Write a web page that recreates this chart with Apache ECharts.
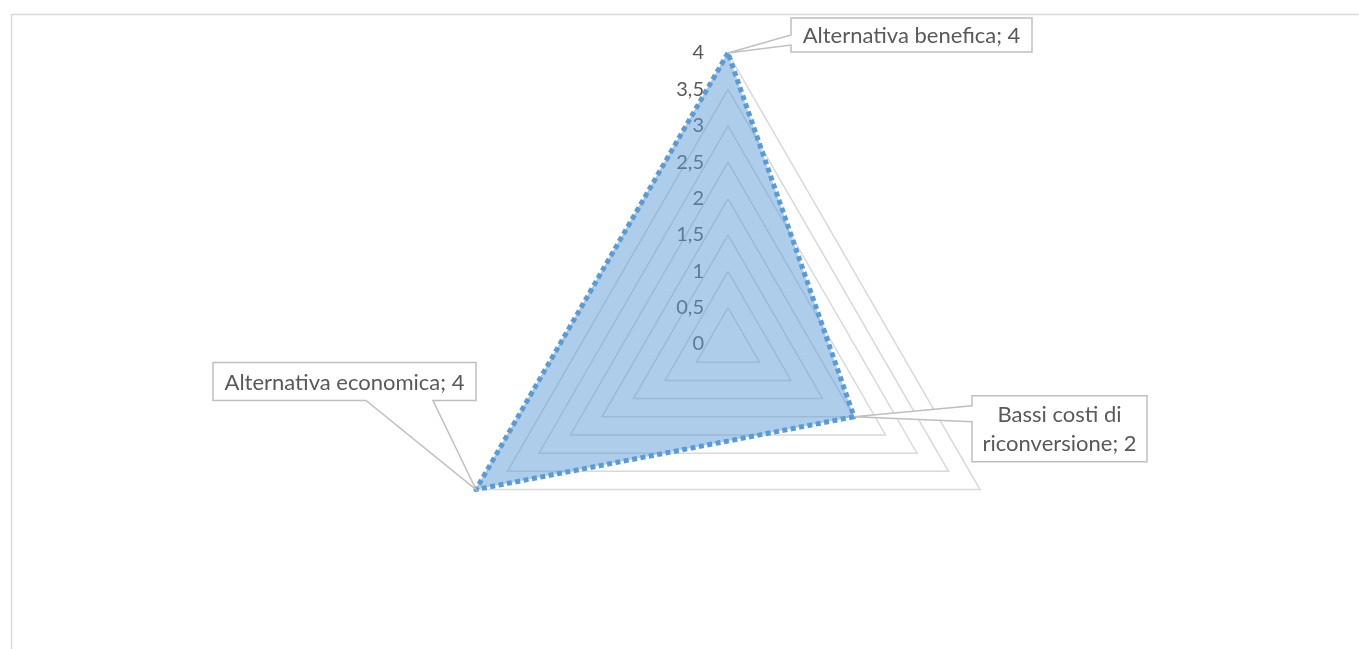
<!DOCTYPE html>
<html>
<head>
<meta charset="utf-8">
<title>Radar</title>
<script src="https://cdn.jsdelivr.net/npm/echarts@6/dist/echarts.min.js"></script>
<style>
  html, body { margin: 0; padding: 0; background: #ffffff; }
  #chart { width: 1359px; height: 649px; }
</style>
</head>
<body>
<div id="chart"></div>
<script>
// Criteria scored in the radar (clockwise from the top)
const categories = ['Alternativa benefica', 'Bassi costi di riconversione', 'Alternativa economica'];
// Score for each criterion
const scores = [4, 2, 4];
// Radial scale
const axisMin = 0;
const axisMax = 4;
const axisStep = 0.5;

// Callout text lines for each point
const calloutLines = [
  ['Alternativa benefica; 4'],
  ['Bassi costi di', 'riconversione; 2'],
  ['Alternativa economica; 4']
];

const FONT = 'Lato, "Open Sans", sans-serif';
const TEXT_COLOR = '#595959';
const GRID_COLOR = '#d9d9d9';
const SERIES_COLOR = '#5b9bd5';

// ECharts places radar indicators counter-clockwise; feed them in reverse
// after the first one so the chart reads clockwise.
const order = [0].concat(categories.map((_, i) => i).slice(1).reverse());

const chart = echarts.init(document.getElementById('chart'), null, { renderer: 'canvas' });

const indicators = order.map((idx, k) => ({
  name: '',
  min: axisMin,
  max: axisMax,
  axisLabel: k === 0 ? {
    show: true,
    showMinLabel: true,
    showMaxLabel: true,
    margin: 24,
    color: TEXT_COLOR,
    fontSize: 20,
    fontFamily: FONT,
    formatter: v => String(v).replace('.', ',')
  } : { show: false }
}));

chart.setOption({
  animation: false,
  radar: {
    center: [728, 344],
    radius: 291,
    startAngle: 90,
    shape: 'polygon',
    splitNumber: Math.round((axisMax - axisMin) / axisStep),
    indicator: indicators,
    axisName: { show: false },
    axisLine: { show: false },
    axisTick: { show: false },
    axisLabel: { show: false },
    splitArea: { show: false },
    splitLine: { lineStyle: { color: GRID_COLOR, width: 1.5 } }
  },
  series: [{
    type: 'radar',
    symbol: 'none',
    data: [{
      value: order.map(i => scores[i]),
      lineStyle: { color: SERIES_COLOR, width: 5, type: [5, 3.5] },
      areaStyle: { color: SERIES_COLOR, opacity: 0.5 }
    }]
  }]
});

// Callouts: a white box with a wedge pointing at the data point.
// Box offsets are relative to the point; wedge sits on one box edge.
const calloutLayout = [
  { box: [63, -35, 304, -1], edge: 'left', wedge: [-18, -8] },
  { box: [118, -21, 293, 45], edge: 'left', wedge: [-11, 5] },
  { box: [-263, -127, 0, -89], edge: 'bottom', wedge: [-110, -43] }
];

const radarCS = chart.getModel().getComponent('radar').coordinateSystem;
const graphics = [{
  type: 'rect',
  shape: { x: 11.5, y: 14.5, width: 1400, height: 800 },
  style: { fill: 'none', stroke: GRID_COLOR, lineWidth: 1.5 },
  silent: true,
  z: 0
}];

categories.forEach((cat, i) => {
  const axisIdx = order.indexOf(i);
  const tip = radarCS.dataToPoint(scores[i], axisIdx);
  const L = calloutLayout[i];
  const x0 = tip[0] + L.box[0], y0 = tip[1] + L.box[1];
  const x1 = tip[0] + L.box[2], y1 = tip[1] + L.box[3];
  let pts;
  if (L.edge === 'left') {
    const wa = tip[1] + L.wedge[0], wb = tip[1] + L.wedge[1];
    pts = [[x0, y0], [x1, y0], [x1, y1], [x0, y1], [x0, wb], tip, [x0, wa]];
  } else {
    const wa = tip[0] + L.wedge[0], wb = tip[0] + L.wedge[1];
    pts = [[x0, y0], [x1, y0], [x1, y1], [wb, y1], tip, [wa, y1], [x0, y1]];
  }
  graphics.push({
    type: 'polygon',
    shape: { points: pts },
    style: { fill: '#ffffff', stroke: '#bfbfbf', lineWidth: 1.5 },
    silent: true,
    z: 10
  });
  graphics.push({
    type: 'text',
    x: (x0 + x1) / 2,
    y: (y0 + y1) / 2 + 1,
    style: {
      text: calloutLines[i].join('\n'),
      fill: TEXT_COLOR,
      font: '22px ' + FONT,
      lineHeight: 29,
      align: 'center',
      verticalAlign: 'middle'
    },
    silent: true,
    z: 11
  });
});

chart.setOption({ graphic: graphics });
</script>
</body>
</html>
